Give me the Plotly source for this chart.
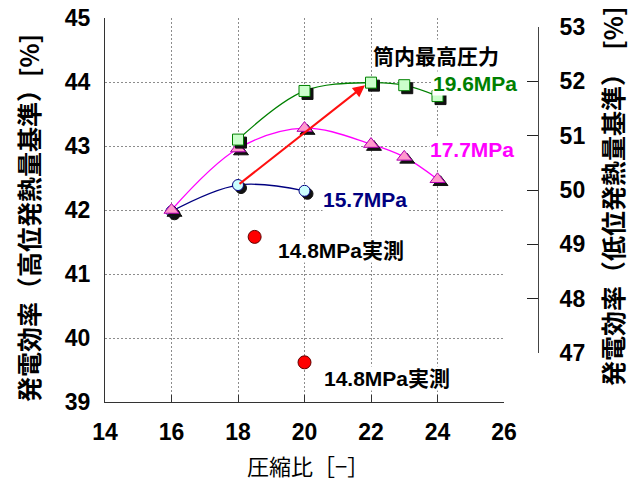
import plotly.graph_objects as go

# ---- data ----
x_157 = [16, 18, 20]
y_157 = [41.98, 42.39, 42.30]

x_177 = [16, 18, 20, 22, 23, 24]
y_177 = [42.00, 42.96, 43.28, 43.03, 42.83, 42.48]

x_196 = [18, 20, 22, 23, 24]
y_196 = [43.10, 43.86, 43.99, 43.95, 43.78]

x_meas = [18.5, 20]
y_meas = [41.58, 39.62]

arrow_from = (18.0, 42.39)
arrow_to = (21.82, 43.95)

x_ticks = [14, 16, 18, 20, 22, 24, 26]
y_ticks = [39, 40, 41, 42, 43, 44, 45]
y2_ticks = [47, 48, 49, 50, 51, 52, 53]

FONT_B = "Liberation Sans, Arial, Noto Sans CJK JP"
FONT_JP = "Noto Sans CJK JP, Liberation Sans"

# page geometry (body margin removed by post_script)
PL, PR, PT, PB = 105, 538, 18, 402      # plot area in page pixels
W, H = 640, 482

def fx(px):
    return (px - PL) / (PR - PL)

def fy(py):
    return (PB - py) / (PB - PT)

PX_X = 12 / 399.0
PX_Y = 6 / 384.0
SDX = 3 * PX_X
SDY = -3 * PX_Y

fig = go.Figure()

series = [
    (x_157, y_157, "#000080", "#CCFFFF", "#000080", "circle", 11),
    (x_177, y_177, "#FF00FF", "#FF99CC", "#B000B0", "triangle-up", 13),
    (x_196, y_196, "#008000", "#CCFFCC", "#008000", "square", 11),
]

for xs, ys, lc, fc, oc, sym, sz in series:
    fig.add_trace(go.Scatter(x=xs, y=ys, mode="lines",
                             line=dict(color=lc, width=1.3, shape="spline"),
                             hoverinfo="skip", showlegend=False))

for xs, ys, lc, fc, oc, sym, sz in series:
    fig.add_trace(go.Scatter(x=[v + SDX for v in xs], y=[v + SDY for v in ys], mode="markers",
                             marker=dict(symbol=sym, size=sz, color="#111111",
                                         line=dict(color="#111111", width=1)),
                             hoverinfo="skip", showlegend=False))
    fig.add_trace(go.Scatter(x=xs, y=ys, mode="markers",
                             marker=dict(symbol=sym, size=sz, color=fc,
                                         line=dict(color=oc, width=1)),
                             showlegend=False))

fig.add_trace(go.Scatter(x=x_meas, y=y_meas, mode="markers",
                         marker=dict(symbol="circle", size=13, color="#FF0000",
                                     line=dict(color="#600000", width=1)),
                         showlegend=False))

# invisible trace that creates the subplot for the right-hand axis
fig.add_trace(go.Scatter(x=[None], y=[None], xaxis="x2", yaxis="y2", mode="markers",
                         showlegend=False, hoverinfo="skip"))

ann = []
def label(text, x, y, color, size=21, font=FONT_B):
    ann.append(dict(x=x, y=y, xref="x", yref="y", text="<b>" + text + "</b>",
                    showarrow=False, xanchor="left", yanchor="middle",
                    font=dict(family=font, size=size, color=color),
                    bgcolor="white", borderpad=0))

label("筒内最高圧力", 22.02, 44.42, "black", 21, FONT_JP)
label("19.6MPa", 23.83, 43.98, "#008000")
label("17.7MPa", 23.74, 42.94, "#FF00FF")
label("15.7MPa", 20.53, 42.16, "#000080")
label("14.8MPa実測", 19.17, 41.37, "black")
label("14.8MPa実測", 20.57, 39.36, "black")

ann.append(dict(x=arrow_to[0], y=arrow_to[1], ax=arrow_from[0], ay=arrow_from[1],
                xref="x", yref="y", axref="x", ayref="y", text="",
                showarrow=True, arrowhead=2, arrowsize=1.2, arrowwidth=2,
                arrowcolor="#FF1010", standoff=0, startstandoff=0))

ann.append(dict(x=fx(28), y=fy(218), xref="paper", yref="paper",
                text="<b>発電効率（高位発熱量基準）[%]</b>", textangle=-90,
                showarrow=False, xanchor="center", yanchor="middle",
                font=dict(family=FONT_JP, size=25, color="black")))
ann.append(dict(x=fx(612), y=fy(197), xref="paper", yref="paper",
                text="<b>発電効率（低位発熱量基準）  [%]</b>", textangle=-90,
                showarrow=False, xanchor="center", yanchor="middle",
                font=dict(family=FONT_JP, size=25, color="black")))
ann.append(dict(x=fx(308), y=fy(465), xref="paper", yref="paper",
                text="圧縮比［−］", showarrow=False, xanchor="center", yanchor="middle",
                font=dict(family=FONT_JP, size=22, color="black")))

tickfont = dict(family=FONT_B, size=23, color="black", weight="bold")
grid = dict(showgrid=True, gridcolor="#8C8C8C", griddash="2px,2px", gridwidth=1)

fig.update_layout(
    width=W, height=H, autosize=False,
    margin=dict(l=PL, r=W - PR, t=PT, b=H - PB, pad=0, autoexpand=False),
    paper_bgcolor="white", plot_bgcolor="rgba(0,0,0,0)",
    annotations=ann, hovermode=False,
    xaxis=dict(range=[14, 26], domain=[0, fx(504)], tickvals=x_ticks, **grid,
               zeroline=False, showline=True, linecolor="#333333", linewidth=1,
               ticks="inside", ticklen=7, tickcolor="#333333", automargin=False,
               tickfont=tickfont, ticklabelstandoff=9, anchor="y",
               ticklabeloverflow="allow"),
    yaxis=dict(range=[39, 45], domain=[0, 1], tickvals=y_ticks, **grid,
               zeroline=False, showline=True, linecolor="#333333", linewidth=1,
               ticks="", tickfont=tickfont, ticklabelstandoff=9, anchor="x",
               automargin=False, ticklabeloverflow="allow"),
    xaxis2=dict(range=[14, 26], overlaying="x", visible=False, automargin=False),
    yaxis2=dict(range=[47, 53], domain=[fy(353), fy(27)],
                tickvals=y2_ticks, anchor="free", position=1.0, side="right",
                showgrid=False, zeroline=False, showline=True, linecolor="#444444",
                linewidth=1, ticks="inside", ticklen=11, tickcolor="#222222",
                tickfont=tickfont, ticklabelstandoff=16, automargin=False,
                ticklabeloverflow="allow"),
)

fig.write_html("out.html", config={"displayModeBar": False},
               post_script="document.body.style.margin='0';document.body.style.overflow='hidden';")
